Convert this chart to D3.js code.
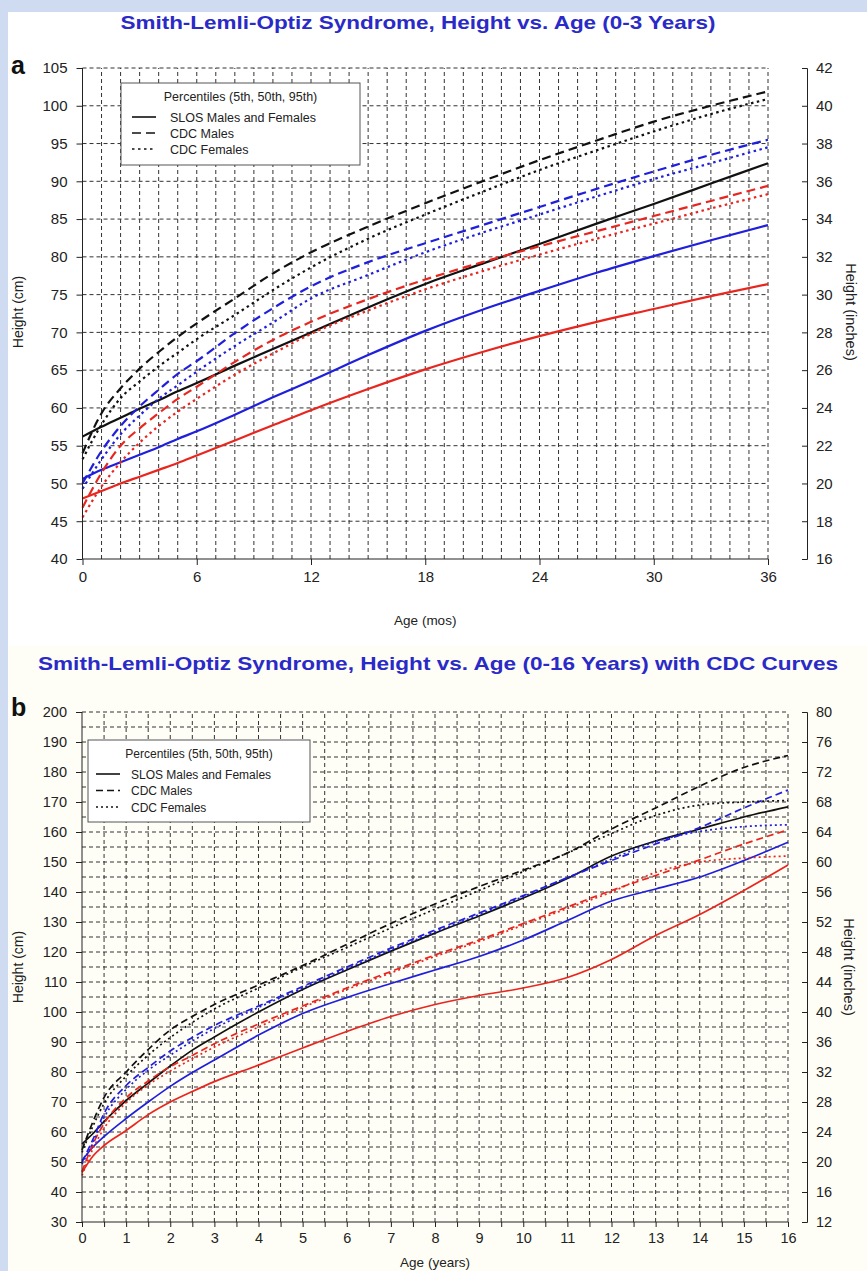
<!DOCTYPE html>
<html>
<head>
<meta charset="utf-8">
<script src="https://cdn.jsdelivr.net/npm/d3@7"></script>
<style>
  body { margin: 0; background: #cfdbf0; }
  svg { display: block; }
  text { font-family: "Liberation Sans", Arial, sans-serif; }
</style>
</head>
<body>
<svg width="867" height="1271"></svg>
<script>
// ---- data, panel a (age in months, height in cm) ----
var monthsA = [0, 1, 2, 3, 4, 5, 6, 8, 10, 12, 15, 18, 21, 24, 27, 30, 33, 36];
var slos5A  = [48.0, 49.0, 50.0, 50.9, 51.8, 52.7, 53.7, 55.7, 57.7, 59.7, 62.5, 65.1, 67.4, 69.5, 71.4, 73.1, 74.8, 76.4];
var slos50A = [50.6, 51.8, 52.8, 53.8, 54.8, 55.9, 56.9, 59.1, 61.4, 63.6, 67.0, 70.2, 73.0, 75.5, 77.9, 80.1, 82.2, 84.2];
var slos95A = [56.2, 57.5, 58.7, 59.9, 61.0, 62.2, 63.3, 65.6, 67.8, 70.0, 73.3, 76.4, 79.1, 81.7, 84.4, 87.0, 89.7, 92.4];
var male5A  = [46.8, 51.4, 55.0, 57.3, 59.3, 61.2, 62.8, 66.1, 69.0, 71.4, 74.4, 77.0, 79.3, 81.4, 83.4, 85.4, 87.4, 89.4];
var male50A = [50.0, 54.3, 57.6, 60.2, 62.4, 64.5, 66.2, 69.9, 73.2, 76.1, 79.3, 81.8, 84.2, 86.6, 89.0, 91.3, 93.5, 95.5];
var male95A = [54.0, 59.3, 62.6, 65.2, 67.4, 69.4, 71.2, 74.5, 77.8, 80.6, 84.0, 87.1, 90.0, 92.8, 95.4, 97.9, 100.0, 101.9];
var fem5A   = [45.5, 49.6, 52.8, 55.4, 57.6, 59.5, 61.2, 64.4, 67.2, 69.8, 72.9, 75.7, 78.1, 80.3, 82.4, 84.4, 86.4, 88.3];
var fem50A  = [49.3, 53.2, 56.5, 59.0, 61.2, 63.0, 64.8, 68.2, 71.3, 74.5, 77.6, 80.6, 83.2, 85.6, 88.0, 90.3, 92.4, 94.5];
var fem95A  = [53.2, 57.8, 61.3, 63.5, 65.5, 67.3, 69.1, 72.3, 75.6, 78.6, 82.4, 85.6, 88.6, 91.5, 94.1, 96.6, 98.9, 100.9];

// ---- data, panel b (age in years, height in cm) ----
var yearsB  = [0, 0.25, 0.5, 1, 1.5, 2, 2.5, 3, 4, 5, 6, 7, 8, 9, 10, 11, 12, 13, 14, 15, 16];
var slos5B  = [46.5, 52.0, 55.5, 60.5, 65.8, 70.0, 73.5, 76.8, 82.3, 88.0, 93.5, 98.5, 102.5, 105.5, 108.0, 111.5, 117.5, 125.5, 132.5, 140.5, 149.0];
var slos50B = [50.5, 55.0, 58.5, 64.5, 70.0, 75.2, 79.8, 84.0, 92.3, 99.5, 104.8, 109.5, 114.0, 118.5, 124.0, 130.5, 137.0, 141.0, 145.0, 150.5, 156.6];
var slos95B = [56.0, 59.5, 63.5, 70.5, 76.3, 82.0, 87.3, 91.7, 100.0, 107.5, 114.0, 120.3, 126.3, 132.0, 138.0, 144.5, 152.0, 157.0, 161.0, 165.0, 168.4];
var male5B  = [46.8, 56.0, 62.8, 71.4, 77.0, 81.8, 85.5, 89.4, 96.0, 102.0, 108.0, 113.5, 119.0, 124.0, 129.5, 135.0, 140.5, 145.5, 150.7, 156.0, 160.7];
var male50B = [50.0, 57.6, 66.2, 75.5, 81.5, 87.0, 91.5, 95.5, 102.0, 108.5, 115.0, 121.3, 127.3, 133.0, 138.8, 144.8, 150.5, 156.0, 161.5, 168.0, 174.0];
var male95B = [54.0, 63.5, 71.5, 80.0, 87.5, 94.0, 98.5, 102.5, 109.0, 115.5, 122.5, 129.5, 136.0, 141.8, 147.3, 153.0, 161.0, 168.0, 175.3, 181.5, 185.5];
var fem5B   = [45.5, 54.5, 61.2, 69.8, 75.7, 80.3, 84.4, 88.3, 95.0, 101.5, 107.5, 113.0, 118.5, 123.5, 129.0, 134.5, 140.0, 146.5, 150.0, 151.3, 152.0];
var fem50B  = [49.3, 56.5, 64.8, 74.2, 80.6, 85.6, 90.3, 94.5, 101.5, 108.0, 114.5, 120.7, 126.7, 132.5, 138.5, 144.8, 151.0, 156.8, 160.2, 161.8, 162.4];
var fem95B  = [53.2, 62.0, 69.5, 78.6, 85.6, 91.5, 96.5, 101.0, 108.0, 115.0, 121.5, 128.0, 134.3, 140.5, 146.8, 153.0, 159.5, 165.5, 169.0, 170.0, 170.5];

var legendTitle = "Percentiles (5th, 50th, 95th)";
var legendNames = ["SLOS Males and Females", "CDC Males", "CDC Females"];

var RED = "#e8261f", BLUE = "#1f1fdc", BLACK = "#111";
var TITLE_BLUE = "#2a2ac8";

var svg = d3.select("svg");

// page backgrounds
svg.append("rect").attr("x", 8).attr("y", 12).attr("width", 859).attr("height", 634).attr("fill", "#fff");
svg.append("rect").attr("x", 8).attr("y", 646).attr("width", 859).attr("height", 625).attr("fill", "#fffef6");

function drawPanel(p) {
	var g = svg.append("g");
	var x = p.x, y = p.y, yIn = p.yIn;
	var x0 = x.range()[0], x1 = x.range()[1], yb = y.range()[0], yt = y.range()[1];

	// dashed grid
	g.selectAll(".vgrid").data(p.vGrid).enter().append("line")
	 .attr("x1", function(d) { return x(d); }).attr("x2", function(d) { return x(d); })
	 .attr("y1", yb).attr("y2", yt)
	 .attr("stroke", "#333").attr("stroke-width", 1).attr("stroke-dasharray", p.gridDash);
	g.selectAll(".hgrid").data(p.hGrid).enter().append("line")
	 .attr("x1", x0).attr("x2", x1)
	 .attr("y1", function(d) { return y(d); }).attr("y2", function(d) { return y(d); })
	 .attr("stroke", "#333").attr("stroke-width", 1).attr("stroke-dasharray", p.gridDash);

	// curves
	var line = d3.line()
		.x(function(d) { return x(d[0]); })
		.y(function(d) { return y(d[1]); })
		.curve(d3.curveMonotoneX);
	p.series.forEach(function(s) {
		g.append("path")
		 .datum(p.ages.map(function(a, i) { return [a, s.vals[i]]; }))
		 .attr("fill", "none")
		 .attr("stroke", s.color)
		 .attr("stroke-width", p.lineWidth)
		 .attr("stroke-dasharray", s.dash)
		 .attr("d", line);
	});

	// axes
	var bottom = g.append("g").attr("transform", "translate(0," + yb + ")")
		.call(d3.axisBottom(x).tickValues(p.xTicks).tickSize(p.xTickSize).tickPadding(6)
			.tickFormat(function(d) { return p.xLabels.indexOf(d) >= 0 ? d : ""; }));
	var left = g.append("g").attr("transform", "translate(" + x0 + ",0)")
		.call(d3.axisLeft(y).tickValues(p.yTicks).tickSize(6).tickPadding(9));
	var right = g.append("g").attr("transform", "translate(" + p.rightX + ",0)")
		.call(d3.axisRight(yIn).tickValues(p.inTicks).tickSize(-5).tickPadding(9).tickSizeOuter(-5));
	[bottom, left, right].forEach(function(a) {
		a.select(".domain").attr("stroke", "#222");
		a.selectAll(".tick line").attr("stroke", "#222");
		a.selectAll("text").attr("font-size", p.tickFont).attr("fill", "#222")
		 .style("font-family", "'Liberation Sans', Arial, sans-serif");
	});
	bottom.select(".domain").attr("d", "M" + x0 + ",0H" + x1);
	left.select(".domain").attr("d", "M0," + yb + "V" + yt);

	// titles and labels
	g.append("text").attr("x", p.titleX).attr("y", p.titleY).attr("text-anchor", "middle")
	 .attr("font-size", 19).attr("font-weight", "bold").attr("fill", TITLE_BLUE)
	 .attr("textLength", p.titleLen).attr("lengthAdjust", "spacingAndGlyphs")
	 .text(p.title);
	g.append("text").attr("x", 11).attr("y", p.letterY).attr("font-size", 25).attr("font-weight", "bold")
	 .attr("fill", "#111").text(p.letter);
	g.append("text").attr("x", (x0 + x1) / 2).attr("y", p.xLabelY).attr("text-anchor", "middle")
	 .attr("font-size", 13.5).attr("fill", "#222").text(p.xLabel);
	g.append("text").attr("transform", "translate(23," + p.yLabelMid + ") rotate(-90)")
	 .attr("text-anchor", "middle").attr("font-size", 14).attr("fill", "#222").text("Height (cm)");
	g.append("text").attr("transform", "translate(" + p.inLabelX + "," + p.yLabelMid + ") rotate(90)")
	 .attr("text-anchor", "middle").attr("font-size", 14.5).attr("fill", "#222").text("Height (inches)");

	// legend
	var L = p.legend;
	var lg = g.append("g").attr("transform", "translate(" + L.x + "," + L.y + ")");
	lg.append("rect").attr("width", L.w).attr("height", L.h).attr("fill", "#fff")
	  .attr("stroke", "#555").attr("stroke-width", 1);
	lg.append("text").attr("x", L.w / 2).attr("y", 18).attr("text-anchor", "middle")
	  .attr("font-size", L.font).attr("fill", "#222").text(legendTitle);
	var keyDash = [null, p.maleDash, p.femDash];
	legendNames.forEach(function(name, i) {
		var yy = L.row0 + i * L.step;
		lg.append("line").attr("x1", L.lx).attr("x2", L.lx + 24).attr("y1", yy).attr("y2", yy)
		  .attr("stroke", "#111").attr("stroke-width", 1.6).attr("stroke-dasharray", keyDash[i]);
		lg.append("text").attr("x", L.tx).attr("y", yy + 4.5).attr("font-size", L.font)
		  .attr("fill", "#222").text(name);
	});
}

// ---- panel a ----
var maleDashA = "9,5", femDashA = "2.5,3.5";
drawPanel({
	x: d3.scaleLinear().domain([0, 36]).range([82.5, 768]),
	y: d3.scaleLinear().domain([40, 105]).range([559, 68]),
	yIn: d3.scaleLinear().domain([16, 42]).range([559, 68]),
	rightX: 807,
	ages: monthsA,
	vGrid: d3.range(1, 37), hGrid: d3.range(45, 106, 5), gridDash: "4,3",
	xTicks: d3.range(0, 37, 6), xLabels: d3.range(0, 37, 6), xTickSize: 6,
	yTicks: d3.range(40, 106, 5), inTicks: d3.range(16, 43, 2),
	tickFont: 15, lineWidth: 2.2,
	maleDash: maleDashA, femDash: femDashA,
	series: [
		{ vals: slos5A, color: RED, dash: null },
		{ vals: slos50A, color: BLUE, dash: null },
		{ vals: slos95A, color: BLACK, dash: null },
		{ vals: male5A, color: RED, dash: maleDashA },
		{ vals: male50A, color: BLUE, dash: maleDashA },
		{ vals: male95A, color: BLACK, dash: maleDashA },
		{ vals: fem5A, color: RED, dash: femDashA },
		{ vals: fem50A, color: BLUE, dash: femDashA },
		{ vals: fem95A, color: BLACK, dash: femDashA }
	],
	title: "Smith-Lemli-Optiz Syndrome, Height vs. Age (0-3 Years)",
	titleX: 418, titleY: 29, titleLen: 595,
	letter: "a", letterY: 74,
	xLabel: "Age (mos)", xLabelY: 625,
	yLabelMid: 312, inLabelX: 846,
	legend: { x: 121, y: 83, w: 239, h: 82, font: 12.5, row0: 34, step: 16, lx: 11, tx: 49 }
});

// ---- panel b ----
var maleDashB = "7,4", femDashB = "2,3";
drawPanel({
	x: d3.scaleLinear().domain([0, 16]).range([82, 788]),
	y: d3.scaleLinear().domain([30, 200]).range([1222, 712]),
	yIn: d3.scaleLinear().domain([12, 80]).range([1222, 712]),
	rightX: 807,
	ages: yearsB,
	vGrid: d3.range(0.5, 16.01, 0.5), hGrid: d3.range(35, 201, 5), gridDash: "4,3",
	xTicks: d3.range(0, 16.01, 0.5), xLabels: d3.range(0, 17, 1), xTickSize: 5,
	yTicks: d3.range(30, 201, 10), inTicks: d3.range(12, 81, 4),
	tickFont: 14.5, lineWidth: 1.7,
	maleDash: maleDashB, femDash: femDashB,
	series: [
		{ vals: slos5B, color: RED, dash: null },
		{ vals: slos50B, color: BLUE, dash: null },
		{ vals: slos95B, color: BLACK, dash: null },
		{ vals: male5B, color: RED, dash: maleDashB },
		{ vals: male50B, color: BLUE, dash: maleDashB },
		{ vals: male95B, color: BLACK, dash: maleDashB },
		{ vals: fem5B, color: RED, dash: femDashB },
		{ vals: fem50B, color: BLUE, dash: femDashB },
		{ vals: fem95B, color: BLACK, dash: femDashB }
	],
	title: "Smith-Lemli-Optiz Syndrome, Height vs. Age (0-16 Years) with CDC Curves",
	titleX: 438, titleY: 670, titleLen: 800,
	letter: "b", letterY: 716,
	xLabel: "Age (years)", xLabelY: 1267,
	yLabelMid: 967, inLabelX: 844,
	legend: { x: 88, y: 740, w: 222, h: 82, font: 12, row0: 34, step: 16.5, lx: 8, tx: 43 }
});
</script>
</body>
</html>
